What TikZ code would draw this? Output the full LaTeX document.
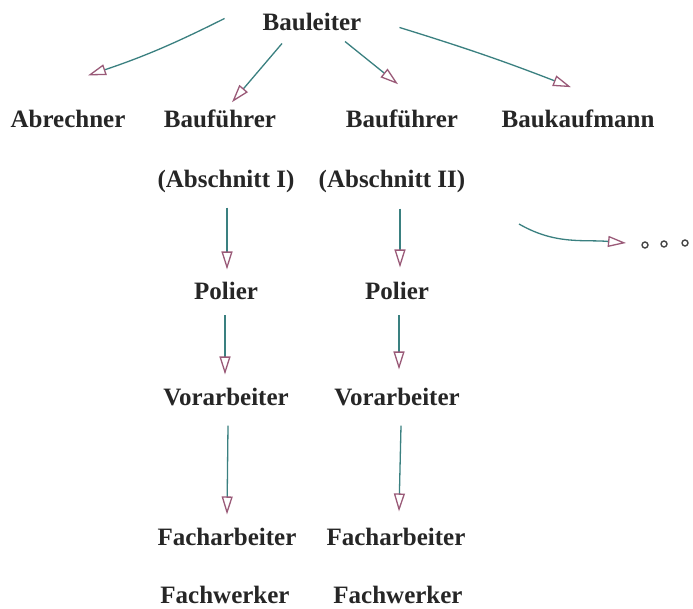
\documentclass[tikz,border=0pt]{standalone}
\usepackage{fontspec}
\setmainfont{Liberation Serif}
\usetikzlibrary{arrows.meta}
\definecolor{txt}{HTML}{262626}
\definecolor{shaft}{HTML}{3A8080}
\definecolor{headc}{HTML}{9A5A78}
\tikzset{
  lbl/.style={anchor=base, text=txt, font=\fontsize{25}{28}\selectfont\bfseries, inner sep=0pt},
  arr/.style={draw=shaft, line width=1.3pt, -{Triangle[open, length=18pt, width=11pt, color=headc, line width=1.3pt]}},
  dot/.style={circle, draw=txt!85, line width=1.4pt, inner sep=0pt, minimum size=6pt}
}
\begin{document}
\begin{tikzpicture}[x=1pt,y=1pt]
\useasboundingbox[fill=white] (0,0) rectangle (693,-609);
\node[lbl] (bl) at (312,-31) {Bauleiter};
\node[lbl] (ab) at (68,-128) {Abrechner};
\node[lbl] (bf1) at (220,-128) {Bauführer};
\node[lbl] (bf2) at (402,-128) {Bauführer};
\node[lbl] (bk) at (578,-128) {Baukaufmann};
\node[lbl] (as1) at (226,-188) {(Abschnitt I)};
\node[lbl] (as2) at (392,-188) {(Abschnitt II)};
\node[lbl] (p1) at (226,-300) {Polier};
\node[lbl] (p2) at (397,-300) {Polier};
\node[lbl] (v1) at (226,-405) {Vorarbeiter};
\node[lbl] (v2) at (397,-405) {Vorarbeiter};
\node[lbl] (f1) at (227,-545) {Facharbeiter};
\node[lbl] (f2) at (396,-545) {Facharbeiter};
\node[lbl] (w1) at (225,-603) {Fachwerker};
\node[lbl] (w2) at (398,-603) {Fachwerker};
\coordinate (more) at (626,-243);
\node[dot] (d1) at (645,-245) {};
\node[dot] (d2) at (664,-244) {};
\node[dot] (d3) at (685,-243) {};
% arrows
\draw[arr] ([shift={(-38,4)}]bl.west) to[bend left=4] ([shift={(20,35)}]ab.north);
\draw[arr] ([shift={(-30,-12)}]bl.south) -- ([shift={(12,8)}]bf1.north);
\draw[arr] ([shift={(33,-10)}]bl.south) -- ([shift={(-4,26)}]bf2.north);
\draw[arr] ([shift={(38,-5)}]bl.east) to[bend left=2] ([shift={(-7,23)}]bk.north);
\draw[arr] ([shift={(1,-14)}]as1.south) -- ([shift={(1,13)}]p1.north);
\draw[arr] ([shift={(8,-15)}]as2.south) -- ([shift={(3,15)}]p2.north);
\draw[arr] ([shift={(-1,-15)}]p1.south) -- ([shift={(-1,13)}]v1.north);
\draw[arr] ([shift={(2,-15)}]p2.south) -- ([shift={(2,18)}]v2.north);
\draw[arr] ([shift={(2,-20)}]v1.south) -- ([shift={(0,13)}]f1.north);
\draw[arr] ([shift={(4,-20)}]v2.south) -- ([shift={(3,16)}]f2.north);
\draw[arr] (519,-224) to[out=-30,in=175] (more);
\end{tikzpicture}
\end{document}
